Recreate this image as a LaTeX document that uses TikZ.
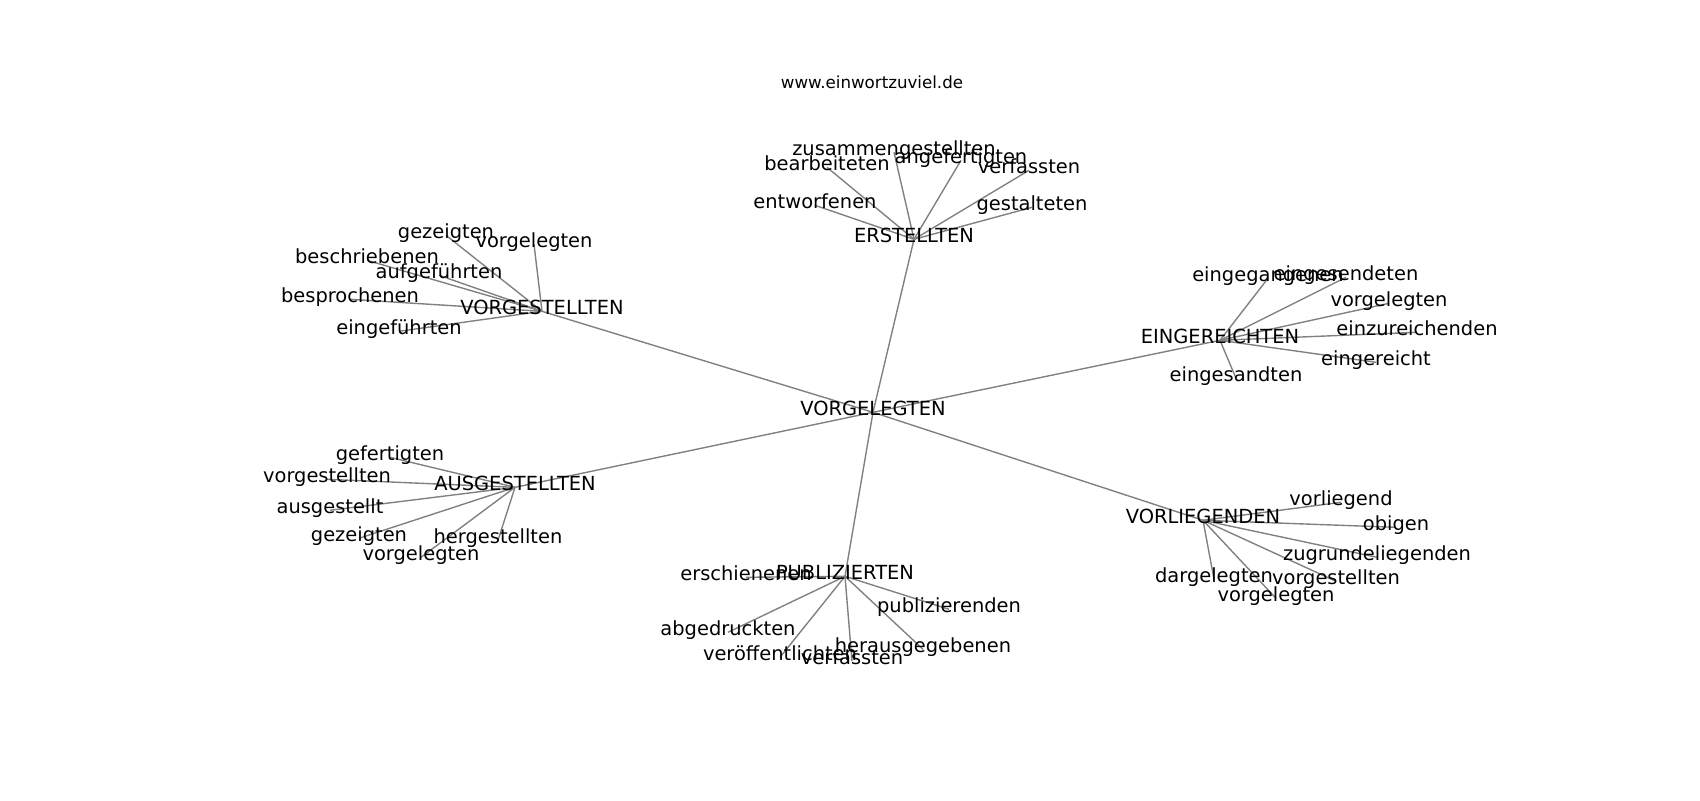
\documentclass[tikz,border=0pt]{standalone}
\usepackage{fontspec}
\setmainfont{DejaVu Sans}
\begin{document}
\begin{tikzpicture}[x=0.72pt,y=-0.72pt,
  lbl/.style={inner sep=0pt,font=\fontsize{14}{16.8}\selectfont,text height=0.76em,text depth=0.24em,anchor=center},
  ttl/.style={inner sep=0pt,font=\fontsize{12}{14.4}\selectfont,text height=0.76em,text depth=0.24em},
  edge/.style={draw=gray,line width=1pt}]
\useasboundingbox (0,0) rectangle (1700,800);
\node[ttl] (title) at (872,85) {www.einwortzuviel.de};
\begin{scope}[shift={(0,3.3)}]
% node positions
\coordinate (c) at (873,409);
\coordinate (er) at (914,236);
\coordinate (er1) at (894,149);
\coordinate (er2) at (827,164);
\coordinate (er3) at (961,157);
\coordinate (er4) at (1029,167);
\coordinate (er5) at (815,202);
\coordinate (er6) at (1032,204);
\coordinate (vs) at (542,308);
\coordinate (vs1) at (446,232);
\coordinate (vs2) at (534,241);
\coordinate (vs3) at (367,257);
\coordinate (vs4) at (439,272);
\coordinate (vs5) at (350,296);
\coordinate (vs6) at (399,328);
\coordinate (ei) at (1220,337);
\coordinate (ei1) at (1268,275);
\coordinate (ei2) at (1346,274);
\coordinate (ei3) at (1389,300);
\coordinate (ei4) at (1417,329);
\coordinate (ei5) at (1376,359);
\coordinate (ei6) at (1236,375);
\coordinate (au) at (515,484);
\coordinate (au1) at (390,454);
\coordinate (au2) at (327,476);
\coordinate (au3) at (330,507);
\coordinate (au4) at (359,535);
\coordinate (au5) at (498,537);
\coordinate (au6) at (421,554);
\coordinate (pu) at (845,573);
\coordinate (pu1) at (746,574);
\coordinate (pu2) at (949,606);
\coordinate (pu3) at (728,629);
\coordinate (pu4) at (923,646);
\coordinate (pu5) at (780,654);
\coordinate (pu6) at (852,658);
\coordinate (vl) at (1203,517);
\coordinate (vl1) at (1341,499);
\coordinate (vl2) at (1396,524);
\coordinate (vl3) at (1377,554);
\coordinate (vl4) at (1214,576);
\coordinate (vl5) at (1336,578);
\coordinate (vl6) at (1276,595);
% edges
\foreach \h in {er,vs,ei,au,pu,vl}{\path[edge] (c) -- (\h);}
\foreach \h in {er,vs,ei,au,pu,vl}{\foreach \i in {1,...,6}{\path[edge] (\h) -- (\h\i);}}
% labels
\node[lbl] (nc) at (c) {VORGELEGTEN};
\node[lbl] (ner) at (er) {ERSTELLTEN};
\node[lbl] (ner1) at (er1) {zusammengestellten};
\node[lbl] (ner2) at (er2) {bearbeiteten};
\node[lbl] (ner3) at (er3) {angefertigten};
\node[lbl] (ner4) at (er4) {verfassten};
\node[lbl] (ner5) at (er5) {entworfenen};
\node[lbl] (ner6) at (er6) {gestalteten};
\node[lbl] (nvs) at (vs) {VORGESTELLTEN};
\node[lbl] (nvs1) at (vs1) {gezeigten};
\node[lbl] (nvs2) at (vs2) {vorgelegten};
\node[lbl] (nvs3) at (vs3) {beschriebenen};
\node[lbl] (nvs4) at (vs4) {aufgeführten};
\node[lbl] (nvs5) at (vs5) {besprochenen};
\node[lbl] (nvs6) at (vs6) {eingeführten};
\node[lbl] (nei) at (ei) {EINGEREICHTEN};
\node[lbl] (nei1) at (ei1) {eingegangenen};
\node[lbl] (nei2) at (ei2) {eingesendeten};
\node[lbl] (nei3) at (ei3) {vorgelegten};
\node[lbl] (nei4) at (ei4) {einzureichenden};
\node[lbl] (nei5) at (ei5) {eingereicht};
\node[lbl] (nei6) at (ei6) {eingesandten};
\node[lbl] (nau) at (au) {AUSGESTELLTEN};
\node[lbl] (nau1) at (au1) {gefertigten};
\node[lbl] (nau2) at (au2) {vorgestellten};
\node[lbl] (nau3) at (au3) {ausgestellt};
\node[lbl] (nau4) at (au4) {gezeigten};
\node[lbl] (nau5) at (au5) {hergestellten};
\node[lbl] (nau6) at (au6) {vorgelegten};
\node[lbl] (npu) at (pu) {PUBLIZIERTEN};
\node[lbl] (npu1) at (pu1) {erschienenen};
\node[lbl] (npu2) at (pu2) {publizierenden};
\node[lbl] (npu3) at (pu3) {abgedruckten};
\node[lbl] (npu4) at (pu4) {herausgegebenen};
\node[lbl] (npu5) at (pu5) {veröffentlichten};
\node[lbl] (npu6) at (pu6) {verfassten};
\node[lbl] (nvl) at (vl) {VORLIEGENDEN};
\node[lbl] (nvl1) at (vl1) {vorliegend};
\node[lbl] (nvl2) at (vl2) {obigen};
\node[lbl] (nvl3) at (vl3) {zugrundeliegenden};
\node[lbl] (nvl4) at (vl4) {dargelegten};
\node[lbl] (nvl5) at (vl5) {vorgestellten};
\node[lbl] (nvl6) at (vl6) {vorgelegten};
\end{scope}
\end{tikzpicture}
\end{document}
